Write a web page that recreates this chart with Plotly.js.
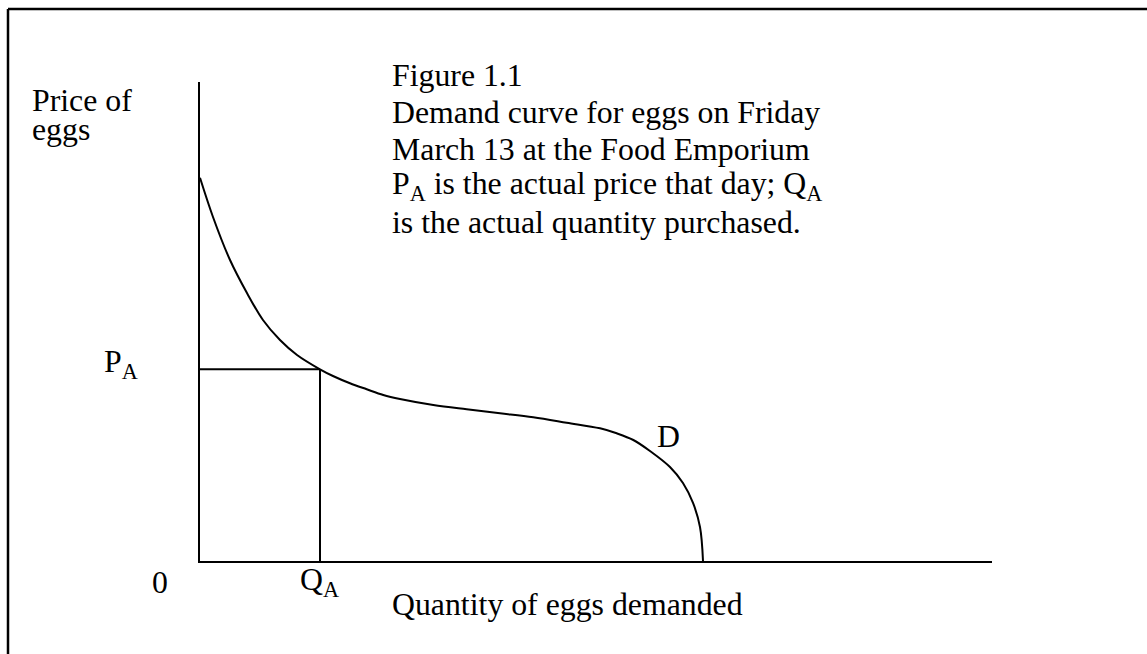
<!DOCTYPE html>
<html>
<head>
<meta charset="utf-8">
<script src="https://cdn.plot.ly/plotly-3.0.1.min.js"></script>
<style>html,body{margin:0;padding:0;background:#fff;}#chart{width:1147px;height:654px;}</style>
</head>
<body>
<div id="chart"></div>
<script>
// Demand curve D (quantity, price), axis units 0-100
const demandQ = [0, 1.64, 3.79, 5.93, 7.95, 10.1, 12.25, 15.15, 16.79, 18.94, 21.05, 23.14, 25.25, 29.46, 33.67, 37.88, 42.08, 46.3, 50.51, 52.61, 54.71, 56.82, 59.34, 60.98, 62.25, 63.13, 63.51];
const demandP = [80.0, 71.82, 62.84, 55.95, 50.31, 46.14, 43.01, 40.02, 38.62, 37.1, 35.85, 34.66, 33.82, 32.57, 31.67, 30.84, 30.0, 28.87, 27.7, 26.66, 25.26, 22.96, 19.62, 16.28, 12.11, 7.1, 0];
// Actual price / quantity
const PA = 40.02;
const QA = 15.15;
const axisMaxQ = 100;
const axisMaxP = 100;

const captionLines = [
  "Figure 1.1",
  "Demand curve for eggs on Friday",
  "March 13 at the Food Emporium",
  "P<sub>A</sub> is the actual price that day; Q<sub>A</sub>",
  "is the actual quantity purchased."
];
const yAxisLabel = ["Price of", "eggs"];
const xAxisLabel = "Quantity of eggs demanded";

// layout geometry (pixels)
const W = 1147, H = 654;
const L = 200, R = 992, T = 82, B = 561;
const px = v => (v - L) / (R - L);
const py = v => (B - v) / (B - T);

const font = {family: "Liberation Serif, Times New Roman, serif", size: 31.8, color: "#000"};
const lineStyle = {color: "#000", width: 2};

const traces = [
  {x: demandQ, y: demandP, mode: "lines", line: {color: "#000", width: 2, shape: "spline", smoothing: 1}, hoverinfo: "skip", cliponaxis: false},
  {x: [0, QA], y: [PA, PA], mode: "lines", line: lineStyle, hoverinfo: "skip"},
  {x: [QA, QA], y: [0, PA], mode: "lines", line: lineStyle, hoverinfo: "skip"}
];

function ann(text, xpx, ypx, extra) {
  return Object.assign({text: text, xref: "paper", yref: "paper", x: px(xpx), y: py(ypx),
    xanchor: "left", yanchor: "middle", showarrow: false, font: font, align: "left"}, extra || {});
}

const annotations = [];
yAxisLabel.forEach((t, i) => annotations.push(ann(t, 30, 100 + i * 29)));
captionLines.forEach((t, i) => annotations.push(ann(t, 390, 75.7 + i * 36.65)));
annotations.push(ann("P<sub>A</sub>", 102, 364));
annotations.push(ann("0", 150, 582));
annotations.push({text: "Q<sub>A</sub>", xref: "x", yref: "paper", x: QA, y: py(582), xanchor: "center", yanchor: "middle", showarrow: false, font: font});
annotations.push(ann(xAxisLabel, 390, 604));
annotations.push(ann("D", 655, 436));

const layout = {
  width: W, height: H,
  margin: {l: L, r: W - R, t: T, b: H - B, pad: 0},
  paper_bgcolor: "#fff", plot_bgcolor: "#fff",
  showlegend: false,
  xaxis: {range: [0, axisMaxQ], showgrid: false, zeroline: false, showticklabels: false, ticks: "",
          showline: true, linecolor: "#000", linewidth: 2, fixedrange: true},
  yaxis: {range: [0, axisMaxP], showgrid: false, zeroline: false, showticklabels: false, ticks: "",
          showline: true, linecolor: "#000", linewidth: 2, fixedrange: true},
  annotations: annotations,
  shapes: [
    {type: "line", xref: "paper", yref: "paper", x0: px(8), x1: px(W + 5), y0: py(9), y1: py(9), line: {color: "#000", width: 2.5}},
    {type: "line", xref: "paper", yref: "paper", x0: px(8), x1: px(8), y0: py(9), y1: py(H + 5), line: {color: "#000", width: 2.5}}
  ]
};

Plotly.newPlot("chart", traces, layout, {staticPlot: true, displayModeBar: false});
</script>
</body>
</html>
